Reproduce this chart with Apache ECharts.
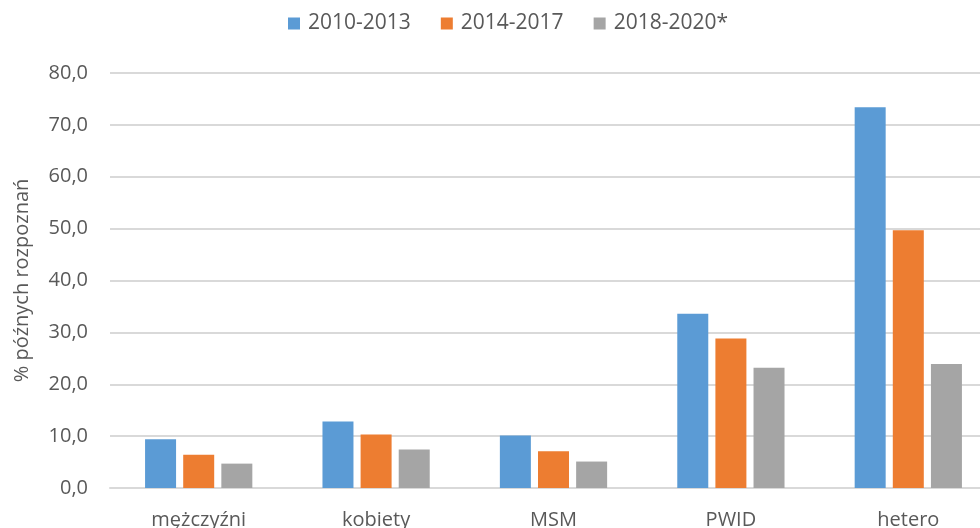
<!DOCTYPE html>
<html>
<head>
<meta charset="utf-8">
<script src="https://cdn.jsdelivr.net/npm/echarts@6/dist/echarts.min.js"></script>
<style>
  html, body { margin: 0; padding: 0; background: #fff; }
  #chart { width: 980px; height: 528px; }
</style>
</head>
<body>
<div id="chart"></div>
<script>
// kategorie i serie
const categories = ["mężczyźni", "kobiety", "MSM", "PWID", "hetero"];
const seriesNames = ["2010-2013", "2014-2017", "2018-2020*"];
const data2010 = [9.4, 12.8, 10.1, 33.6, 73.4];
const data2014 = [6.4, 10.3, 7.1, 28.8, 49.7];
const data2018 = [4.7, 7.4, 5.1, 23.2, 23.9];
const colors = ["#5B9BD5", "#ED7D31", "#A5A5A5"];

const font = "'Open Sans', 'Liberation Sans', sans-serif";
const textColor = "#595959";

const chart = echarts.init(document.getElementById("chart"));

const makeSeries = (name, values, color) => ({
  name: name,
  type: "bar",
  data: values,
  barWidth: 31,
  barGap: "23%",
  itemStyle: { color: color },
});

chart.setOption({
  animation: false,
  legend: {
    top: 8,
    left: 283,
    itemWidth: 12,
    itemHeight: 12,
    itemGap: 30,
    icon: "rect",
    textStyle: { fontFamily: font, fontSize: 21, color: textColor, padding: [0, 0, 0, 3] },
    data: seriesNames,
  },
  grid: {
    left: 110,
    top: 73,
    width: 887,
    height: 415,
    outerBoundsMode: "none",
    containLabel: false,
  },
  xAxis: {
    type: "category",
    data: categories,
    axisLine: { lineStyle: { color: "#d9d9d9", width: 2 } },
    axisTick: { show: false },
    axisLabel: {
      fontFamily: font,
      fontSize: 20,
      color: textColor,
      margin: 22,
    },
  },
  yAxis: {
    type: "value",
    min: 0,
    max: 80,
    interval: 10,
    name: "% późnych rozpoznań",
    nameLocation: "middle",
    nameGap: 78,
    nameTextStyle: { fontFamily: font, fontSize: 20, color: textColor },
    axisLine: { show: false },
    axisTick: { show: false },
    axisLabel: {
      fontFamily: font,
      fontSize: 20,
      color: textColor,
      margin: 22,
      formatter: (v) => v.toFixed(1).replace(".", ","),
    },
    splitLine: { lineStyle: { color: "#d9d9d9", width: 2 } },
  },
  series: [
    makeSeries(seriesNames[0], data2010, colors[0]),
    makeSeries(seriesNames[1], data2014, colors[1]),
    makeSeries(seriesNames[2], data2018, colors[2]),
  ],
});
</script>
</body>
</html>
